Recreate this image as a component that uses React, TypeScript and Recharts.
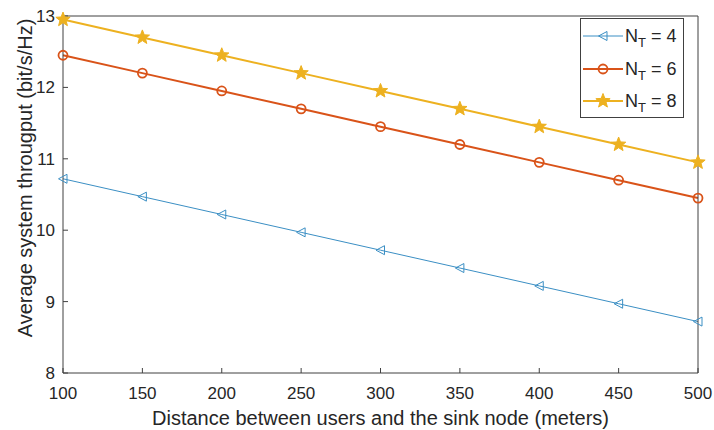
import React from 'react';
import { LineChart, Line, XAxis, YAxis, Legend } from 'recharts';

const distances = [100, 150, 200, 250, 300, 350, 400, 450, 500];
const nt4 = [10.72, 10.47, 10.22, 9.97, 9.72, 9.47, 9.22, 8.97, 8.72];
const nt6 = [12.45, 12.2, 11.95, 11.7, 11.45, 11.2, 10.95, 10.7, 10.45];
const nt8 = [12.95, 12.7, 12.45, 12.2, 11.95, 11.7, 11.45, 11.2, 10.95];
const xTicks = [100, 150, 200, 250, 300, 350, 400, 450, 500];
const yTicks = [8, 9, 10, 11, 12, 13];
const seriesNames = ['4', '6', '8'];

const BLUE = '#3b8fc4';
const ORANGE = '#D95319';
const YELLOW = '#EDB120';
const TEXT = '#262626';
const AXIS = '#404040';
const FONT = '"Liberation Sans", Arial, sans-serif';

const data = distances.map((d, i) => ({ d, nt4: nt4[i], nt6: nt6[i], nt8: nt8[i] }));

const starPath = (cx: number, cy: number, R: number, r: number) => {
  const pts: string[] = [];
  for (let k = 0; k < 10; k++) {
    const rad = k % 2 === 0 ? R : r;
    const a = -Math.PI / 2 + (k * Math.PI) / 5;
    pts.push(`${cx + rad * Math.cos(a)},${cy + rad * Math.sin(a)}`);
  }
  return 'M' + pts.join('L') + 'Z';
};

const TriMarker = ({ cx, cy }: { cx: number; cy: number }) => (
  <path
    d={`M${cx - 4.5},${cy} L${cx + 4},${cy - 4.5} L${cx + 4},${cy + 4.5} Z`}
    fill="none"
    stroke={BLUE}
    strokeWidth={1}
  />
);
const CircleMarker = ({ cx, cy }: { cx: number; cy: number }) => (
  <circle cx={cx} cy={cy} r={4.5} fill="none" stroke={ORANGE} strokeWidth={1.8} />
);
const StarMarker = ({ cx, cy }: { cx: number; cy: number }) => (
  <path d={starPath(cx, cy, 7.5, 3.2)} fill={YELLOW} stroke={YELLOW} strokeWidth={1} />
);

const makeDot = (Comp: any) => (props: any) => {
  const { cx, cy, index } = props;
  if (cx == null || cy == null) return <g key={`e${index}`} />;
  return (
    <g key={`m${index}`}>
      <Comp cx={cx} cy={cy} />
    </g>
  );
};

const LegendBox = () => {
  const rows = [
    { color: BLUE, w: 1, M: TriMarker },
    { color: ORANGE, w: 2, M: CircleMarker },
    { color: YELLOW, w: 2, M: StarMarker },
  ];
  const ys = [17, 50, 82];
  return (
    <div
      style={{
        width: 104,
        height: 100,
        border: `1px solid ${AXIS}`,
        background: '#fff',
        boxSizing: 'border-box',
      }}
    >
      <svg width={102} height={98} style={{ display: 'block' }}>
        {rows.map((r, i) => (
          <g key={i}>
            <line x1={2} x2={42} y1={ys[i]} y2={ys[i]} stroke={r.color} strokeWidth={r.w} />
            <r.M cx={22} cy={ys[i]} />
            <text x={44} y={ys[i] + 6} fontFamily={FONT} fontSize={18} fill={TEXT}>
              N
              <tspan fontSize={13} dy={5}>T</tspan>
              <tspan fontSize={18} dy={-5}>{` = ${seriesNames[i]}`}</tspan>
            </text>
          </g>
        ))}
      </svg>
    </div>
  );
};

const tickStyle = { fontFamily: FONT, fontSize: 17, fill: TEXT };

export default function App() {
  return (
    <div style={{ position: 'absolute', left: 0, top: 0, width: 714, height: 430, background: '#fff' }}>
      <LineChart
        width={714}
        height={430}
        data={data}
        margin={{ top: 15, right: 15, left: 0, bottom: 0 }}
      >
        <XAxis
          dataKey="d"
          type="number"
          domain={[100, 500]}
          ticks={xTicks}
          interval={0}
          height={57}
          tickSize={-5}
          tickMargin={19}
          stroke={AXIS}
          tick={tickStyle}
          label={{
            value: 'Distance between users and the sink node (meters)',
            position: 'insideBottom',
            offset: 5,
            style: { fontFamily: FONT, fontSize: 20, fill: TEXT },
          }}
        />
        <XAxis
          xAxisId="top"
          dataKey="d"
          type="number"
          orientation="top"
          domain={[100, 500]}
          ticks={xTicks}
          interval={0}
          height={1}
          tickSize={-5}
          stroke={AXIS}
          tick={false}
        />
        <YAxis
          type="number"
          domain={[8, 13]}
          ticks={yTicks}
          interval={0}
          width={63}
          tickSize={-5}
          tickMargin={13}
          stroke={AXIS}
          tick={tickStyle}
          label={{
            content: () => (
              <text
                transform="translate(31.5,178) rotate(-90)"
                textAnchor="middle"
                fontFamily={FONT}
                fontSize={20}
                fill={TEXT}
              >
                Average system througput (bit/s/Hz)
              </text>
            ),
          }}
        />
        <YAxis
          yAxisId="right"
          type="number"
          orientation="right"
          domain={[8, 13]}
          ticks={yTicks}
          interval={0}
          width={1}
          tickSize={-5}
          stroke={AXIS}
          tick={false}
        />
        <Legend
          layout="horizontal"
          verticalAlign="middle"
          align="center"
          wrapperStyle={{ position: 'absolute', left: 580, top: 18, width: 104, height: 100 }}
          content={() => <LegendBox />}
        />
        <Line
          dataKey="nt4"
          stroke={BLUE}
          strokeWidth={1}
          dot={makeDot(TriMarker)}
          activeDot={false}
          isAnimationActive={false}
        />
        <Line
          dataKey="nt6"
          stroke={ORANGE}
          strokeWidth={2}
          dot={makeDot(CircleMarker)}
          activeDot={false}
          isAnimationActive={false}
        />
        <Line
          dataKey="nt8"
          stroke={YELLOW}
          strokeWidth={2}
          dot={makeDot(StarMarker)}
          activeDot={false}
          isAnimationActive={false}
        />
      </LineChart>
    </div>
  );
}
